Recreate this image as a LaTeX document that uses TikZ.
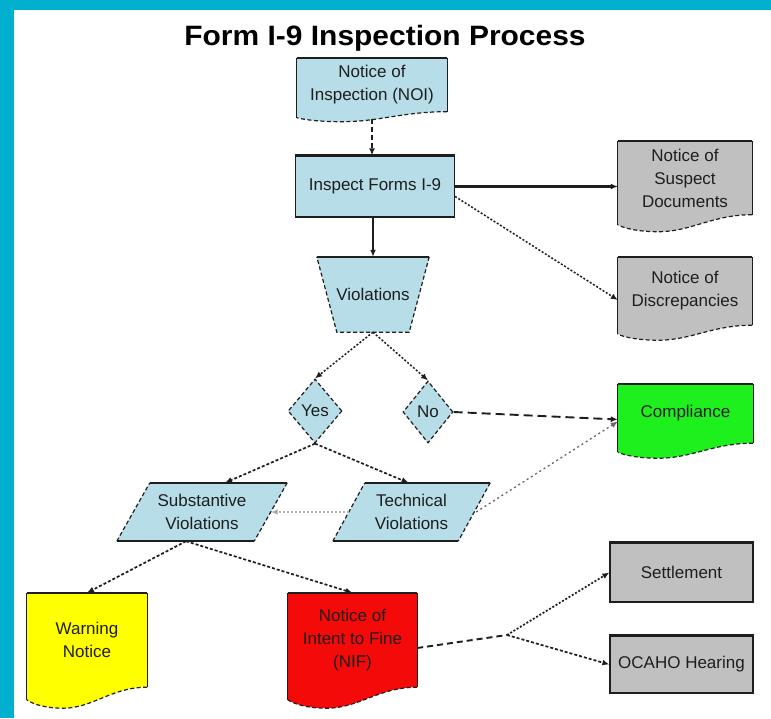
\documentclass[tikz,border=0pt]{standalone}
\usepackage{fontspec}
\setmainfont{Liberation Sans}
\usetikzlibrary{arrows.meta,calc,shapes.geometric}
\pgfdeclarelayer{back}
\pgfdeclarelayer{shapes}
\pgfsetlayers{back,shapes,main}
\definecolor{framecol}{RGB}{0,176,206}
\definecolor{lblue}{RGB}{183,221,232}
\definecolor{lgray}{RGB}{192,192,192}
\definecolor{lgreen}{RGB}{30,240,30}
\definecolor{lyellow}{RGB}{255,255,0}
\definecolor{lred}{RGB}{245,10,10}
\definecolor{ink}{RGB}{30,30,30}
\tikzset{
  nodebox/.style={rectangle, inner sep=0pt, align=center, font=\fontsize{17}{23}\selectfont, text=ink},
  edgeline/.style={draw=ink, line width=1.2pt},
  topline/.style={draw=ink, line width=2pt},
  dashline/.style={draw=ink, line width=1.2pt, dash pattern=on 4pt off 2.5pt},
  arrowtip/.style={-{Latex[length=7pt,width=6pt]}},
  conn/.style={draw=ink, line width=1.5pt, arrowtip},
  solidc/.style={conn, line width=2.4pt},
  dotc/.style={conn, dash pattern=on 2pt off 1.8pt},
  densec/.style={conn, line width=1.7pt, dash pattern=on 3pt off 2pt},
  dashc/.style={conn, dash pattern=on 5pt off 3pt},
  longdashc/.style={conn, line width=1.9pt, dash pattern=on 9pt off 5pt},
}
\newcommand{\docshape}[3]{%
  \begin{pgfonlayer}{shapes}
  \path[fill=#2] let \p1=(#1.north west), \p2=(#1.south east), \n1={\x2-\x1} in
    (\x1,\y1) -- (\x2,\y1) -- (\x2,\y2)
    .. controls ({\x2-0.3*\n1},\y2) and ({\x1+0.55*\n1},{\y2-#3}) .. ({\x1+0.3*\n1},{\y2-#3})
    .. controls ({\x1+0.15*\n1},{\y2-#3}) and ({\x1+0.05*\n1},{\y2-0.8*#3}) .. (\x1,{\y2-0.6*#3}) -- cycle;
  \draw[edgeline] let \p1=(#1.north west), \p2=(#1.south east) in
    (\x1,{\y2-0.6*#3}) -- (\x1,\y1) (\x2,\y1) -- (\x2,\y2);
  \draw[topline] (#1.north west) -- (#1.north east);
  \draw[dashline] let \p1=(#1.north west), \p2=(#1.south east), \n1={\x2-\x1} in
    (\x2,\y2)
    .. controls ({\x2-0.3*\n1},\y2) and ({\x1+0.55*\n1},{\y2-#3}) .. ({\x1+0.3*\n1},{\y2-#3})
    .. controls ({\x1+0.15*\n1},{\y2-#3}) and ({\x1+0.05*\n1},{\y2-0.8*#3}) .. (\x1,{\y2-0.6*#3});
  \end{pgfonlayer}}
\begin{document}
\begin{tikzpicture}[x=1pt,y=-1pt]
\useasboundingbox (0,0) rectangle (771,718);
\begin{pgfonlayer}{back}
\fill[framecol] (0,0) rectangle (771,718);
\fill[white] (14,10) rectangle (771,718);
\end{pgfonlayer}

% title
\node[anchor=base, font=\fontsize{28}{32}\selectfont\bfseries, text=black, xscale=1.07] (title) at (385,45) {Form I-9 Inspection Process};

% documents
\node[nodebox, minimum width=150pt, minimum height=53pt] (noi) at (372,85) {Notice of\\Inspection (NOI)};
\docshape{noi}{lblue}{10pt}
\node[nodebox, minimum width=134pt, minimum height=73pt] (susp) at (685,178) {Notice of\\Suspect\\Documents};
\docshape{susp}{lgray}{17pt}
\node[nodebox, minimum width=134pt, minimum height=68pt] (disc) at (685,291) {Notice of\\Discrepancies};
\docshape{disc}{lgray}{15pt}
\node[nodebox, minimum width=135pt, minimum height=59pt] (comp) at (685.5,413.5) {Compliance};
\docshape{comp}{lgreen}{15pt}
\node[nodebox, minimum width=120pt, minimum height=94pt] (warn) at (87,640) {Warning\\Notice};
\docshape{warn}{lyellow}{21pt}
\node[nodebox, minimum width=129pt, minimum height=94pt] (nif) at (352.5,640) {Notice of\\Intent to Fine\\(NIF)};
\docshape{nif}{lred}{21pt}

% rectangles
\node[nodebox, fill=lblue, draw=ink, line width=1.3pt, minimum width=159pt, minimum height=61pt] (insp) at (375,186.5) {Inspect Forms I-9};
\draw[topline] (insp.north west) -- (insp.north east);
\node[nodebox, fill=lgray, draw=ink, line width=1.3pt, minimum width=143pt, minimum height=59pt] (sett) at (681.5,572.5) {Settlement};
\draw[topline] (sett.north west) -- (sett.north east);
\node[nodebox, fill=lgray, draw=ink, line width=1.3pt, minimum width=143pt, minimum height=57pt] (ocaho) at (681.5,664.5) {OCAHO Hearing};
\draw[topline] (ocaho.north west) -- (ocaho.north east);

% trapezoid
\node[nodebox, minimum width=112pt, minimum height=75pt] (vio) at (373,294.5) {Violations};
\begin{pgfonlayer}{shapes}
\fill[lblue] (vio.north west) -- (vio.north east) -- ([xshift=-20pt]vio.south east) -- ([xshift=20pt]vio.south west) -- cycle;
\draw[dashline] (vio.north east) -- ([xshift=-20pt]vio.south east) -- ([xshift=20pt]vio.south west) -- (vio.north west);
\draw[topline] (vio.north west) -- (vio.north east);
\end{pgfonlayer}

% diamonds
\node[diamond, fill=lblue, dashline, inner sep=0pt, minimum width=54pt, minimum height=64pt, font=\fontsize{17}{22}\selectfont, text=ink] (yes) at (315,411) {Yes};
\node[diamond, fill=lblue, dashline, inner sep=0pt, minimum width=50pt, minimum height=62pt, font=\fontsize{17}{22}\selectfont, text=ink] (no) at (428,412) {No};

% parallelograms
\node[nodebox, minimum width=170pt, minimum height=58pt] (subst) at (202,512) {Substantive\\Violations};
\node[nodebox, minimum width=157pt, minimum height=58pt] (tech) at (411.5,512) {Technical\\Violations};
\begin{pgfonlayer}{shapes}
\fill[lblue] ([xshift=33pt]subst.north west) -- (subst.north east) -- ([xshift=-33pt]subst.south east) -- (subst.south west) -- cycle;
\draw[dashline] (subst.north east) -- ([xshift=-33pt]subst.south east) (subst.south west) -- ([xshift=33pt]subst.north west);
\draw[topline] ([xshift=33pt]subst.north west) -- (subst.north east) ([xshift=-33pt]subst.south east) -- (subst.south west);
\fill[lblue] ([xshift=32pt]tech.north west) -- (tech.north east) -- ([xshift=-32pt]tech.south east) -- (tech.south west) -- cycle;
\draw[dashline] (tech.north east) -- ([xshift=-32pt]tech.south east) (tech.south west) -- ([xshift=32pt]tech.north west);
\draw[topline] ([xshift=32pt]tech.north west) -- (tech.north east) ([xshift=-32pt]tech.south east) -- (tech.south west);
\end{pgfonlayer}

\coordinate (jn) at (507,635);

% connectors
\draw[dashc] ([yshift=-7pt]noi.south) -- (noi.south |- insp.north);
\draw[solidc] (vio.north |- insp.south) -- (vio.north);
\draw[solidc] (insp.east) -- (insp.east -| susp.west);
\draw[dotc] ([yshift=-10pt]insp.east) -- ([yshift=-9pt]disc.west);
\draw[dotc] (vio.south) -- (yes.north);
\draw[dotc] (vio.south) -- (no.north);
\draw[longdashc] (no.east) -- ([yshift=-6pt]comp.west);
\draw[densec] (yes.south) -- ([xshift=23pt]subst.north);
\draw[densec] (yes.south) -- ([xshift=-3pt]tech.north);
\draw[conn, draw=gray!60, dash pattern=on 2pt off 2pt, -{Latex[length=7pt,width=6pt,fill=ink]}] ([xshift=16pt]tech.west) -- ([xshift=-16.5pt]subst.east);
\draw[conn, draw=gray!80!black, line width=1.3pt, dash pattern=on 2pt off 3pt] ([xshift=-14pt]tech.east) -- ([yshift=-8pt]comp.west);
\draw[densec] ([xshift=-16pt]subst.south) -- (warn.north);
\draw[densec] ([xshift=-16pt]subst.south) -- (nif.north);
\draw[draw=ink, line width=1.9pt, dash pattern=on 6pt off 4pt] ([yshift=-8pt]nif.east) -- (jn);
\draw[dotc, line width=1.7pt] (jn) -- (sett.west);
\draw[densec] (jn) -- (ocaho.west);
\end{tikzpicture}
\end{document}
